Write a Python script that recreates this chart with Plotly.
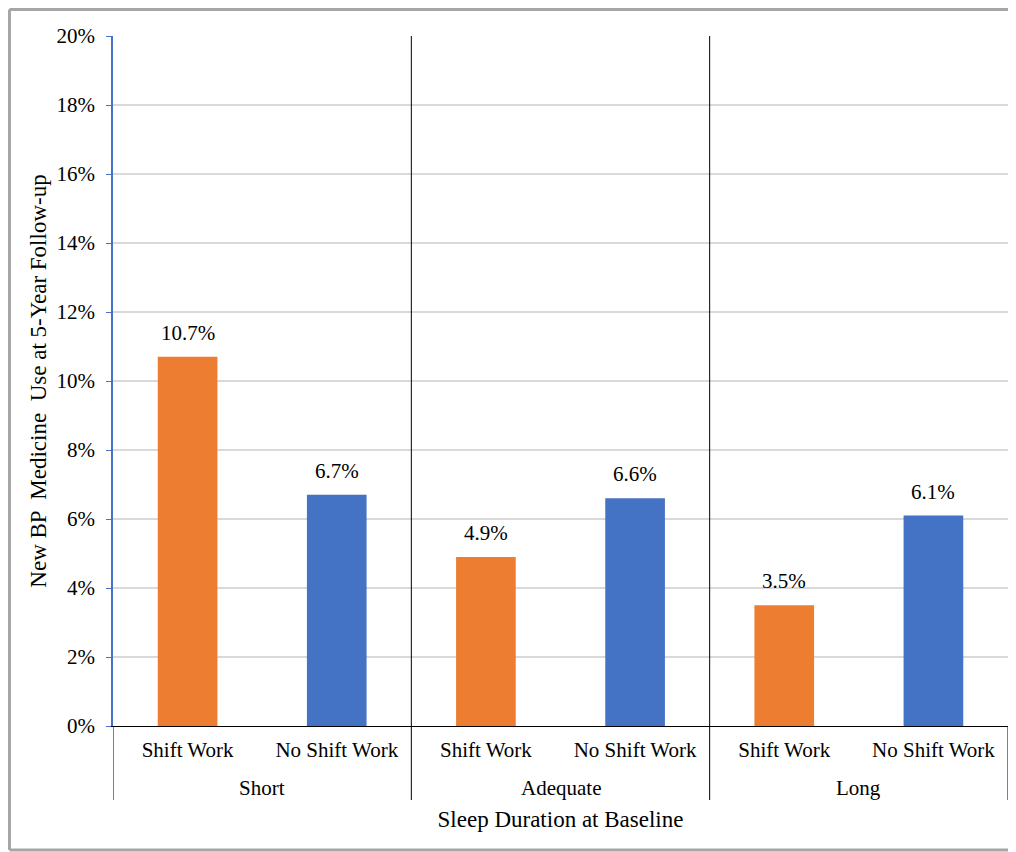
import plotly.graph_objects as go

groups = ["Short", "Short", "Adequate", "Adequate", "Long", "Long"]
work = ["Shift Work", "No Shift Work"] * 3
values = [10.7, 6.7, 4.9, 6.6, 3.5, 6.1]
colors = ["#ED7D31", "#4472C4"] * 3

FONT = "Liberation Serif"
pos = list(range(len(values)))

fig = go.Figure(go.Bar(
    x=pos, y=values, marker_color=colors, marker_line_width=0,
    width=0.4, customdata=[f"{g} / {w}" for g, w in zip(groups, work)],
    hovertemplate="%{customdata}: %{y:.1f}%<extra></extra>",
))

W, H = 1008, 844
l, r, t, b = 105, 8, 28, 126
pw, ph = W - l - r, H - t - b

def px(xp): return (xp - l) / pw
def py(yp): return (H - b - yp) / ph

border = dict(color="#A6A6A6", width=3)
shapes = [
    dict(type="line", xref="paper", yref="paper", x0=px(1.5), x1=px(1030), y0=py(1.5), y1=py(1.5), line=border),
    dict(type="line", xref="paper", yref="paper", x0=px(1.5), x1=px(1030), y0=py(842), y1=py(842), line=border),
    dict(type="line", xref="paper", yref="paper", x0=px(1.5), x1=px(1.5), y0=py(842), y1=py(1.5), line=border),
]

# group boundaries and group centres derived from the category lists
names, starts = [], []
for i, g in enumerate(groups):
    if not names or names[-1] != g:
        names.append(g)
        starts.append(i)
ends = starts[1:] + [len(groups)]
div_bottom = py(792)
for k, s in enumerate(starts + [len(groups)]):
    xb = s - 0.5
    inner = 0 < k < len(starts)
    shapes.append(dict(type="line", xref="x", yref="paper", x0=xb, x1=xb,
                       y0=div_bottom, y1=1 if inner else 0,
                       line=dict(color="#000", width=1)))

annotations = [
    dict(x=i, y=v, xref="x", yref="y", text=f"{v:.1f}%", showarrow=False,
         yanchor="bottom", yshift=10, font=dict(family=FONT, size=21, color="#000"))
    for i, v in zip(pos, values)
]
for n, s, e in zip(names, starts, ends):
    annotations.append(dict(x=(s + e - 1) / 2, y=0, xref="x", yref="paper", text=n,
                            showarrow=False, yanchor="middle", yshift=-62,
                            font=dict(family=FONT, size=21, color="#000")))

fig.update_layout(
    width=W, height=H, margin=dict(l=l, r=r, t=t, b=b),
    paper_bgcolor="white", plot_bgcolor="white", showlegend=False,
    font=dict(family=FONT, size=21, color="#000"),
    bargap=0.6,
    xaxis=dict(tickmode="array", tickvals=pos, ticktext=work, range=[-0.5, len(pos) - 0.5],
               showline=True, linecolor="#000", linewidth=1, showgrid=False, zeroline=False,
               ticks="", ticklabelstandoff=5,
               tickfont=dict(family=FONT, size=21, color="#000"),
               title=dict(text="Sleep Duration at Baseline", standoff=49,
                          font=dict(family=FONT, size=23, color="#000"))),
    yaxis=dict(range=[0, 20], dtick=2, ticksuffix="%", showgrid=True, gridcolor="#D9D9D9",
               gridwidth=1.5, showline=True, linecolor="#4472C4", linewidth=1.5,
               ticks="outside", tickcolor="#4472C4", ticklen=5, zeroline=False,
               ticklabelstandoff=7,
               tickfont=dict(family=FONT, size=21, color="#000"),
               title=dict(text="New BP  Medicine  Use at 5-Year Follow-up", standoff=3,
                          font=dict(family=FONT, size=23, color="#000"))),
    shapes=shapes, annotations=annotations,
)

fig.write_html("out.html")
